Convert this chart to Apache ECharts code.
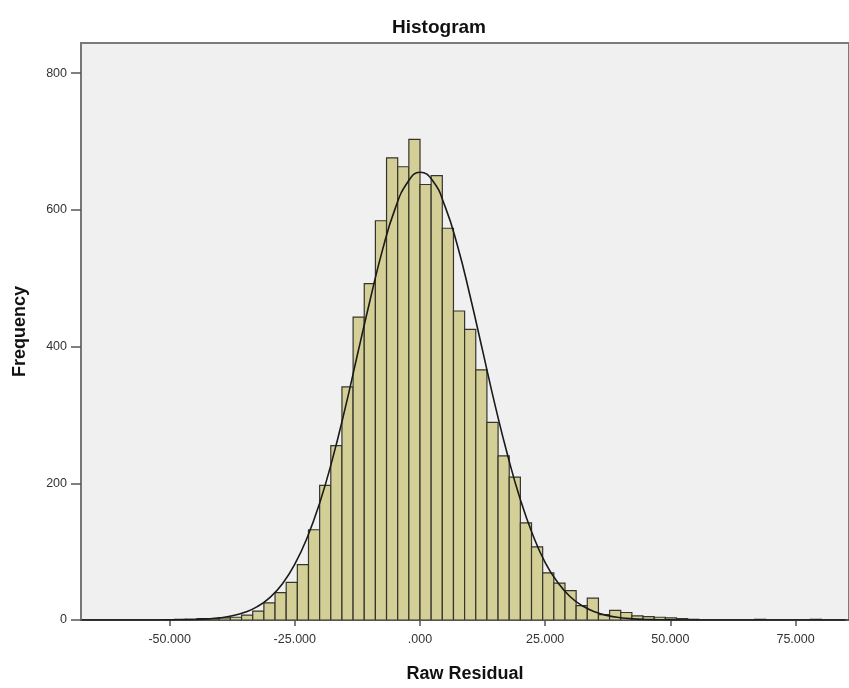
<!DOCTYPE html>
<html>
<head>
<meta charset="utf-8">
<script src="https://cdn.jsdelivr.net/npm/echarts@6/dist/echarts.min.js"></script>
<style>
  html, body { margin: 0; padding: 0; background: #ffffff; }
  #chart { width: 849px; height: 688px; }
</style>
</head>
<body>
<div id="chart"></div>
<script>
// ---- data ----
const binWidth = 2.227;          // width of one histogram bin (Raw Residual units)
const firstBinIndex = -22;       // bin k spans [k*binWidth, (k+1)*binWidth]
const binCounts = [
  1, 1, 2, 2, 3, 4, 7, 13, 25, 40, 55, 81, 132, 197, 255, 341,
  443, 492, 584, 676, 663, 703,
  637, 650, 573, 452, 425, 366, 289, 240, 209, 142, 107, 69, 54, 43,
  21, 32, 8, 14, 11, 6, 5, 4, 3, 2, 1,
  0, 0, 0, 0, 0, 1, 0, 0, 0, 0, 1
];
const curveX = [-67.5, -62.5, -55, -50, -47.5, -45, -42.5, -40, -37.5, -35, -32.5, -30, -27.5, -25,
  -22.5, -20, -17.5, -15, -12.5, -10, -7.5, -5, -2.5, 0, 2.5, 5, 7.5, 10, 12.5, 15, 17.5,
  20, 22.5, 25, 27.5, 30, 32.5, 35, 37.5, 40, 42.5, 45, 47.5, 50, 55, 62.5, 85];
const curveY = [0, 0, 0, 0.2, 0.4, 0.8, 1.6, 3.2, 6.1, 11.2, 19.5, 32.8, 52.8, 81.7,
  121, 172, 235, 308, 388, 467, 541, 601, 640, 655, 643, 605, 547, 474, 394, 314, 241,
  177, 125, 84, 55, 34, 20.4, 11.7, 6.4, 3.4, 1.7, 0.8, 0.4, 0.2, 0, 0, 0];
const xTickValues = [-50, -25, 0, 25, 50, 75];
const yTickValues = [0, 200, 400, 600, 800];

// ---- build series data ----
const barData = [];
binCounts.forEach(function (c, i) {
  if (c <= 0) return;
  const k = firstBinIndex + i;
  barData.push([k * binWidth, (k + 1) * binWidth, c]);
});
const curveData = curveX.map(function (x, i) { return [x, curveY[i]]; });

function fmtX(v) {
  const s = Math.abs(v).toFixed(3);
  const t = (Math.abs(v) < 1) ? s.replace(/^0/, '') : s;
  return (v < 0 ? '-' : '') + t;
}

const chart = echarts.init(document.getElementById('chart'), null, { renderer: 'canvas' });
const FONT = '"Liberation Sans", Arial, sans-serif';

chart.setOption({
  animation: false,
  backgroundColor: '#ffffff',
  title: {
    text: 'Histogram',
    left: 434,
    textAlign: 'center',
    top: 13,
    textStyle: { fontFamily: FONT, fontSize: 19, fontWeight: 'bold', color: '#111' }
  },
  grid: {
    left: 81, right: -1, top: 43, bottom: 65,
    show: true,
    backgroundColor: '#f0f0f0',
    borderColor: '#7a7a7a',
    borderWidth: 2
  },
  xAxis: {
    type: 'value',
    min: -67.7, max: 85.67,
    name: 'Raw Residual',
    nameLocation: 'middle',
    nameGap: 45,
    nameTextStyle: { fontFamily: FONT, fontSize: 18, fontWeight: 'bold', color: '#111' },
    axisLine: { show: true, onZero: false, lineStyle: { color: '#555', width: 2 } },
    axisTick: { show: true, customValues: xTickValues, length: 6, lineStyle: { color: '#555', width: 1.5 } },
    axisLabel: {
      customValues: xTickValues, formatter: fmtX, margin: 13,
      fontFamily: FONT, fontSize: 12.5, color: '#333'
    },
    splitLine: { show: false }
  },
  yAxis: {
    type: 'value',
    min: 0, max: 844,
    name: 'Frequency',
    nameLocation: 'middle',
    nameGap: 52,
    nameTextStyle: { fontFamily: FONT, fontSize: 18, fontWeight: 'bold', color: '#111' },
    axisLine: { show: true, onZero: false, lineStyle: { color: '#777', width: 2 } },
    axisTick: { show: true, customValues: yTickValues, length: 10, lineStyle: { color: '#555', width: 1.5 } },
    axisLabel: {
      customValues: yTickValues, margin: 14,
      fontFamily: FONT, fontSize: 12.5, color: '#333'
    },
    splitLine: { show: false }
  },
  series: [
    {
      type: 'custom',
      clip: true,
      data: barData,
      encode: { x: [0, 1], y: 2 },
      renderItem: function (params, api) {
        const p0 = api.coord([api.value(0), api.value(2)]);
        const p1 = api.coord([api.value(1), 0]);
        return {
          type: 'rect',
          shape: { x: p0[0], y: p0[1], width: p1[0] - p0[0], height: p1[1] - p0[1] },
          style: { fill: '#d4cf96', stroke: '#35352d', lineWidth: 1.2 }
        };
      },
      z: 2
    },
    {
      type: 'line',
      data: curveData,
      smooth: true,
      showSymbol: false,
      symbol: 'none',
      clip: true,
      lineStyle: { color: '#1a1a1a', width: 1.6 },
      z: 3
    }
  ]
});
</script>
</body>
</html>
